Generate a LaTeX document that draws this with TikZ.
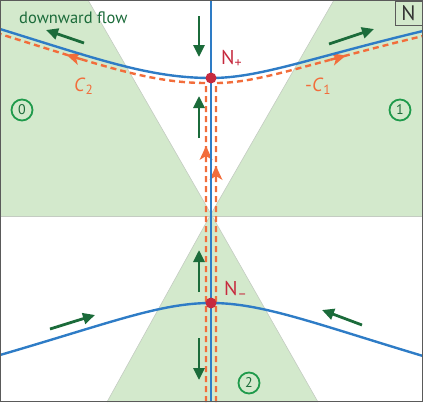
\documentclass[tikz,border=0pt]{standalone}
\usepackage{fontspec}
\setmainfont{PT Sans}
\usetikzlibrary{arrows.meta,decorations.markings}
\definecolor{gfill}{HTML}{D3E9CC}
\definecolor{gedge}{HTML}{C4CCC2}
\definecolor{darkgreen}{HTML}{1B6B3A}
\definecolor{flowblue}{HTML}{2E7CC6}
\definecolor{corange}{HTML}{F26D3B}
\definecolor{nred}{HTML}{C62A3E}
\definecolor{circgreen}{HTML}{1F9A4B}
\definecolor{framegray}{HTML}{5A5A5A}
\tikzset{
  flowline/.style={draw=flowblue,line width=2.4pt},
  garr/.style={draw=darkgreen,line width=2.8pt,-{Triangle[length=12pt,width=11pt]}},
  cpath/.style={draw=corange,line width=2.4pt,dash pattern=on 6pt off 4pt},
  otip/.style={decoration={markings,
     mark=at position #1 with {\draw[corange,solid,line width=2.4pt] (-16pt,0)--(-6pt,0);
       \fill[corange] (0,0) -- (-14pt,6.5pt) -- (-10pt,0) -- (-14pt,-6.5pt) -- cycle;}},
     postaction={decorate}},
  regnum/.style={circle,draw=circgreen,line width=1.8pt,minimum size=21pt,inner sep=0pt,
     text=darkgreen,font=\fontsize{14}{14}\selectfont},
  npoint/.style={circle,fill=nred,minimum size=11pt,inner sep=0pt},
  nlabel/.style={text=nred,font=\fontsize{20}{20}\selectfont,inner sep=0pt,anchor=base west},
  clabel/.style={text=corange,font=\fontsize{19}{19}\selectfont,inner sep=0pt,anchor=base west}
}
\begin{document}
\begin{tikzpicture}[x=1pt,y=-1pt]
\useasboundingbox (0,0) rectangle (423,402);
% green sectors
\fill[gfill] (0,0) -- (88,0) -- (211,214) -- (334,0) -- (423,0) -- (423,216) -- (0,216) -- cycle;
\fill[gfill] (211,214) -- (318,402) -- (107,402) -- cycle;
\draw[gedge,line width=0.6pt] (88,0) -- (211,214) -- (334,0);
\draw[gedge,line width=0.6pt] (0,216) -- (423,216);
\draw[gedge,line width=0.6pt] (107,402) -- (211,214) -- (318,402);
% coordinates
\coordinate (Np) at (211,78);
\coordinate (Nm) at (211,303);
\coordinate (top) at (211,0);
\coordinate (bot) at (211,402);
% orange dashed paths
\coordinate (c2b) at (206,402);
\coordinate (c2c) at (206,83);
\coordinate (c2e) at (0,34);
\coordinate (c1b) at (216,402);
\coordinate (c1c) at (216,83);
\coordinate (c1e) at (423,36);
\draw[cpath] (c2b) -- (c2c) .. controls (150,83) and (100,65) .. (c2e);
\draw[cpath] (c1b) -- (c1c) .. controls (260,83) and (310,63) .. (c1e);
\path[otip=256pt] (c2b) -- (c2c) .. controls (150,83) and (100,65) .. (c2e);
\path[otip=462pt] (c2b) -- (c2c) .. controls (150,83) and (100,65) .. (c2e);
\path[otip=236pt] (c1b) -- (c1c) .. controls (260,83) and (310,63) .. (c1e);
\path[otip=452pt] (c1b) -- (c1c) .. controls (260,83) and (310,63) .. (c1e);
% blue flow lines
\draw[flowline] (top) -- (bot);
\draw[flowline] (0,29) .. controls (100,60) and (150,78) .. (Np) .. controls (260,78) and (310,58) .. (423,31);
\draw[flowline] (0,355) .. controls (110,323) and (160,303) .. (Nm) .. controls (262,303) and (313,323) .. (423,356);
% fixed points
\node[npoint] (Npd) at (Np) {};
\node[npoint] (Nmd) at (Nm) {};
% green arrows
\draw[garr] (84,43) -- (46,30);
\draw[garr] (199,16) -- (199,57);
\draw[garr] (199,138) -- (199,96);
\draw[garr] (329,44) -- (374,29);
\draw[garr] (199,292) -- (199,250);
\draw[garr] (199,338) -- (199,380);
\draw[garr] (50,329) -- (95,315);
\draw[garr] (362,325) -- (322,310);
% labels
\node[text=darkgreen,font=\fontsize{16.5}{17}\selectfont,inner sep=0pt,anchor=base west] (flow) at (19,23.5) {downward flow};
\node[nlabel] (Npl) at (221,64) {N\textsubscript{+}};
\node[nlabel] (Nml) at (224,295) {N\textsubscript{–}};
\node[clabel] (c2l) at (74,91) {\textit{C}\textsubscript{2}};
\node[clabel] (c1l) at (305,91) {-\textit{C}\textsubscript{1}};
\node[regnum] (r0) at (22,110) {0};
\node[regnum] (r1) at (400,110) {1};
\node[regnum] (r2) at (249,383) {2};
% frame and N box
\draw[framegray,line width=1pt] (0.5,0.5) rectangle (422.5,401.5);
\node[draw=framegray,line width=1pt,minimum width=27pt,minimum height=24pt,inner sep=0pt,
  anchor=north east,text=black!80,font=\fontsize{21}{21}\selectfont] (Nbox) at (422.5,0.5) {N};
\end{tikzpicture}
\end{document}
